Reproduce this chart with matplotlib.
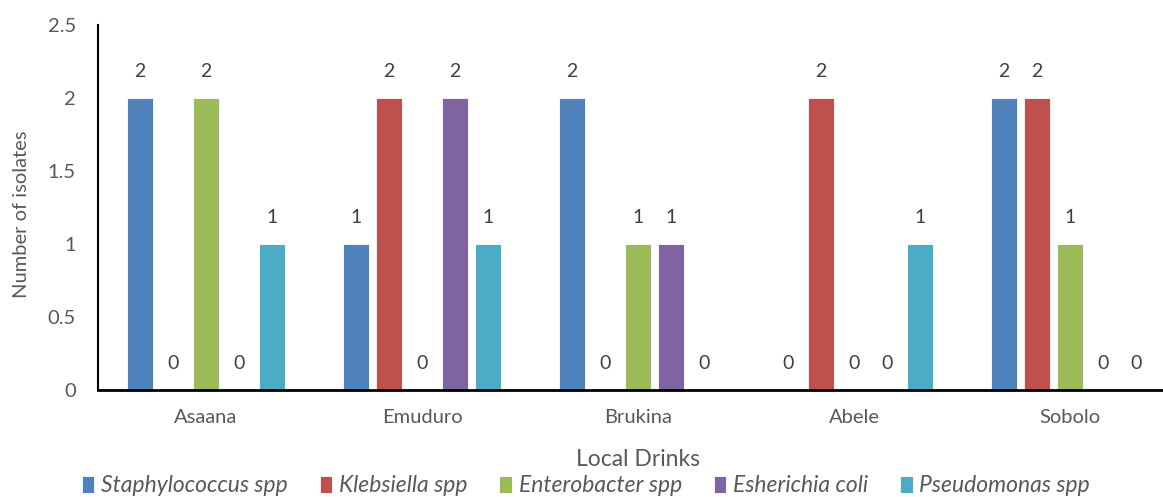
import numpy as np
import matplotlib
matplotlib.use("Agg")
import matplotlib.pyplot as plt

plt.rcParams['font.family'] = ['Lato', 'DejaVu Sans']

drinks = ["Asaana", "Emuduro", "Brukina", "Abele", "Sobolo"]
organisms = ["Staphylococcus spp", "Klebsiella spp", "Enterobacter spp",
             "Esherichia coli", "Pseudomonas spp"]
staphylococcus = [2, 1, 2, 0, 2]
klebsiella = [0, 2, 0, 2, 2]
enterobacter = [2, 0, 1, 0, 1]
escherichia = [0, 2, 1, 0, 0]
pseudomonas = [1, 1, 0, 1, 0]
counts = [staphylococcus, klebsiella, enterobacter, escherichia, pseudomonas]
colors = ["#4F81BD", "#C0504D", "#9BBB59", "#8064A2", "#4BACC6"]

text_color = "#595959"

fig = plt.figure(figsize=(11.63, 4.97), dpi=100)
ax = fig.add_axes([98 / 1163, 1 - 390 / 497, 1080 / 1163, 365 / 497])

x = np.arange(len(drinks))
step = 0.153
width = 0.12
for i, (name, vals, c) in enumerate(zip(organisms, counts, colors)):
    pos = x + (i - 2) * step
    bars = ax.bar(pos, vals, width, color=c, label=name,
                  edgecolor="white", linewidth=0.6)
    for b, v in zip(bars, vals):
        ax.annotate(f"{v}", (b.get_x() + b.get_width() / 2, v),
                    xytext=(0, 13), textcoords="offset points",
                    ha="center", va="bottom", fontsize=14, color="#404040")

ax.set_xlim(-0.5, len(drinks) - 0.5)
ax.set_ylim(0, 2.5)
ax.set_yticks([0, 0.5, 1, 1.5, 2, 2.5])
ax.set_yticklabels(["0", "0.5", "1", "1.5", "2", "2.5"])
ax.set_xticks(x)
ax.set_xticklabels(drinks)
ax.tick_params(axis="both", length=0, labelsize=14.5, colors=text_color)
ax.tick_params(axis="x", pad=14)
ax.tick_params(axis="y", pad=16)

for s in ["top", "right"]:
    ax.spines[s].set_visible(False)
ax.spines["left"].set_linewidth(1.5)
ax.spines["bottom"].set_linewidth(2)
ax.spines["left"].set_color("black")
ax.spines["bottom"].set_color("black")

fig.text(22 / 1163, 1 - 214 / 497, "Number of isolates", rotation=90,
         ha="center", va="center", fontsize=14.5, color=text_color)
fig.text(638 / 1163, 1 - 459 / 497, "Local Drinks", ha="center", va="center",
         fontsize=16.5, color=text_color)

leg = fig.legend(loc="center", bbox_to_anchor=(586 / 1163, 1 - 486 / 497),
                 ncol=5, frameon=False, handlelength=0.55,
                 handleheight=0.75, handletextpad=0.3, columnspacing=1.38,
                 prop={"style": "italic", "size": 16.5})
for t in leg.get_texts():
    t.set_color(text_color)

fig.savefig("out.png", dpi=100)
